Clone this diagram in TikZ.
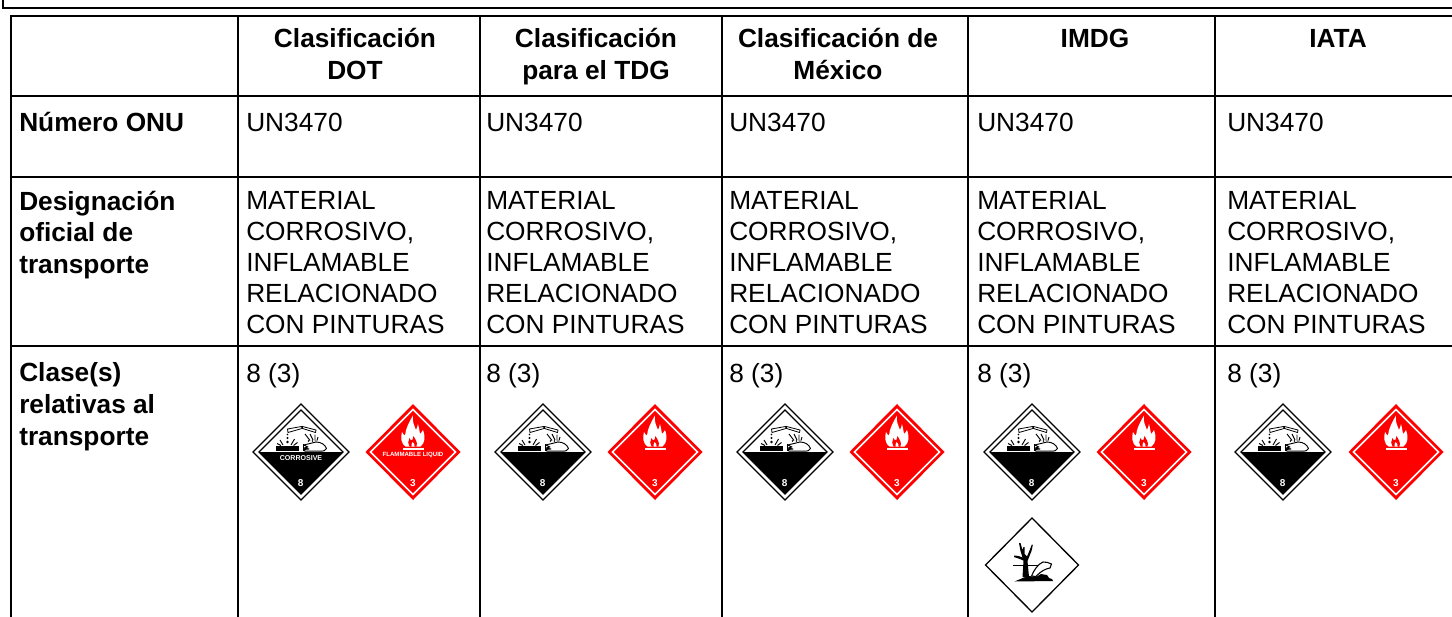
\documentclass[tikz,border=0pt]{standalone}
\usepackage{fontspec}
\setmainfont{Liberation Sans}
\newcommand{\hazbody}{\fontsize{19.7pt}{23pt}\selectfont}
\newcommand{\hazhead}{\fontsize{19.7pt}{23pt}\selectfont\bfseries}
\newcommand{\hazcorr}{\fontsize{5.3pt}{6pt}\selectfont\bfseries}
\newcommand{\hazflam}{\fontsize{4.55pt}{6pt}\selectfont\bfseries}
\newcommand{\haznum}{\fontsize{7.5pt}{8pt}\selectfont\bfseries}
\tikzset{
  rule/.style={draw=black,line width=1.9pt},
  colrule/.style={draw=black,line width=1.1pt},
  bodytext/.style={anchor=base west,inner sep=0pt,font=\hazbody},
  labeltext/.style={anchor=base west,inner sep=0pt,font=\hazhead},
  headtext/.style={anchor=base,inner sep=0pt,font=\hazhead},
  signtext/.style={anchor=center,inner sep=0pt,text=white},
  signnum/.style={anchor=center,inner sep=0pt,text=white,font=\haznum},
}
% corrosive sign: centre x, centre y, optional label
\newcommand{\corrsign}[3]{%
 \begin{scope}[shift={(#1,#2)}]
  \draw[black,line width=1pt,fill=white,line join=miter] (0,-48)--(48,0)--(0,48)--(-48,0)--cycle;
  \draw[black,line width=1pt,fill=white] (0,-42)--(42,0)--(0,42)--(-42,0)--cycle;
  \fill[black] (-41.5,0)--(41.5,0)--(0,42)--cycle;
  % tubes
  \draw[black,line width=.6pt,fill=white] (-13.5,-23)--(.5,-25.5)--(1,-23.5)--(-13,-19.5)--cycle;
  \draw[black,line width=.6pt,fill=white] (1.5,-25.5)--(15,-22)--(14.5,-19.5)--(1.5,-23.5)--cycle;
  % left bar and drops
  \fill[black] (-25,-6) rectangle (-2.5,-1);
  \fill[black] (-13.5,-10) circle (1.3) (-13.5,-14) circle (1.1) (-13.5,-17.5) circle (.8);
  \draw[black,line width=.7pt] (-18,-7)--(-21,-12) (-10,-7)--(-6.5,-13) (-7.5,-6.5)--(-3.5,-9.5) (-20,-6.5)--(-24,-8.5);
  % hand
  \draw[black,line width=.7pt,fill=white,line join=round] (2.5,-7)--(9,-8.5)--(15,-10) .. controls (20,-10) and (24,-7.5) .. (25.5,-3.5) .. controls (25,-1) and (22,-.8) .. (18,-.8) -- (4,-.8) -- (3,-2.5)--(8,-3)--(3,-4)--(7,-5)--cycle;
  \fill[black] (1.5,-8.5) rectangle (3,-.6);
  \draw[black,line width=.7pt] (4,-18)--(9,-11.5) (9,-18)--(12,-12) (14,-17.5)--(14,-11.5) (17,-15)--(16,-11.5);
  \fill[black] (7.5,-11) circle (.9) (11.5,-11) circle (.8) (15,-11) circle (.7);
  #3
  \node[signnum] (n8x#1) at (-.3,31.5) {8};
 \end{scope}}
% flame sign
\newcommand{\flamesign}[3]{%
 \begin{scope}[shift={(#1,#2)}]
  \fill[red] (0,-48)--(47.5,0)--(0,48)--(-47.5,0)--cycle;
  \draw[white,line width=1.1pt,line join=miter] (0,-42.5)--(42.5,0)--(0,42.5)--(-42.5,0)--cycle;
  \fill[white] (-7.5,-5.5) .. controls (-12,-8) and (-12.5,-15) .. (-11,-20) .. controls (-10,-18) and (-9,-17) .. (-8,-16.5) .. controls (-7.5,-23) and (-4,-30) .. (0,-36.5) .. controls (-1,-31) and (1,-27) .. (3,-22) .. controls (4,-24) and (4.5,-26) .. (5,-28) .. controls (6,-24) and (6.5,-21) .. (7,-18) .. controls (8,-19) and (9,-20) .. (10,-22) .. controls (12.5,-15) and (12,-9) .. (7.5,-5.5) -- cycle;
  \fill[red] (-3.5,-5.5) .. controls (-5.5,-8) and (-5,-11) .. (-3.5,-14) .. controls (-3,-12) and (-2,-11.5) .. (-.7,-12) .. controls (-.2,-13) and (.2,-14.5) .. (.5,-16) .. controls (2,-13) and (5,-10) .. (3.5,-5.5) -- cycle;
  \fill[white] (-1.5,-5.5) .. controls (-2,-7.5) and (-1,-8.5) .. (-.3,-10) .. controls (1,-8.5) and (2,-7) .. (1.5,-5.5) -- cycle;
  \fill[white] (-10.3,-4.4) rectangle (10.7,-2.3);
  #3
  \node[signnum] (n3x#1) at (0,31) {3};
 \end{scope}}
% environmental sign
\newcommand{\envsign}[2]{%
 \begin{scope}[shift={(#1,#2)}]
  \draw[black,line width=1pt,fill=white] (0,-47)--(46.5,0)--(0,47)--(-46.5,0)--cycle;
  \draw[black,line width=.5pt] (-19,0)--(7,0);
  \fill[black] (-9.5,12) -- (-8.5,-4.5) .. controls (-12,-6) and (-15,-7) .. (-18,-8) -- (-18,-9.5) .. controls (-15,-9.5) and (-13,-9) .. (-9.5,-7.5) -- (-11.5,-14) -- (-13,-22) -- (-11.5,-22) -- (-9.5,-15) -- (-8.5,-18) -- (-7.5,-18) -- (-7.5,-11) -- (-5,-8.5) -- (-1.5,-17) -- (-.2,-20.5) -- (.8,-20) -- (-.5,-14) -- (-4.5,-4) -- (-3,12) -- cycle;
  \draw[black,line width=.8pt,fill=white,line join=round] (-.5,11) .. controls (2,5) and (6,-1) .. (11,-3) .. controls (14,-3) and (17,-2.5) .. (19.5,-1) -- (18,3) .. controls (13,4) and (9,6) .. (4,11.5) -- cycle;
  \fill[black] (-8,12.5) -- (-3,11) -- (4,12) -- (9,9) -- (15,10) -- (17,13) -- (20,14) -- (21,16) -- (-17.5,16.5) -- cycle;
 \end{scope}}
\begin{document}
\begin{tikzpicture}[x=.75pt,y=-.75pt]
\useasboundingbox (0,0) rectangle (1452,617);
\fill[white] (0,0) rectangle (1452,617);
% page frame remnant
\coordinate (pfa) at (3,0); \coordinate (pfb) at (3,8); \coordinate (pfc) at (1452,8);
\draw[rule] (pfa)--(pfb)--(pfc);
% table grid
\coordinate (ttl) at (11,16); \coordinate (ttr) at (1452,16); \coordinate (tbl) at (11,617);
\draw[rule] (ttr)--(ttl)--(tbl);
\foreach \yy in {96,177,346} \draw[rule] (11,\yy)--(1452,\yy);
\foreach \xx in {238,480,722,968,1215} \draw[colrule] (\xx,16)--(\xx,617);
% headers
\node[headtext] (h1a) at (355,47.5) {Clasificación};
\node[headtext] (h1b) at (355,79.5) {DOT};
\node[headtext] (h2a) at (596,47.5) {Clasificación};
\node[headtext] (h2b) at (596,79.5) {para el TDG};
\node[headtext] (h3a) at (838,47.5) {Clasificación de};
\node[headtext] (h3b) at (838,79.5) {México};
\node[headtext] (h4a) at (1095,47.5) {IMDG};
\node[headtext] (h5a) at (1338,47.5) {IATA};
% row labels
\node[labeltext] (r1) at (19,131) {Número ONU};
\node[labeltext] (r2a) at (19,210) {Designación};
\node[labeltext] (r2b) at (19,241) {oficial de};
\node[labeltext] (r2c) at (19,273) {transporte};
\node[labeltext] (r3a) at (19,381) {Clase(s)};
\node[labeltext] (r3b) at (19,413) {relativas al};
\node[labeltext] (r3c) at (19,445) {transporte};
% columns
\foreach \xx/\nn in {246/a,486/b,729/c,977/d,1227/e}{
  \node[bodytext] (un\nn) at (\xx,131) {UN3470};
  \node[bodytext] (m1\nn) at (\xx,209) {MATERIAL};
  \node[bodytext] (m2\nn) at (\xx,240) {CORROSIVO,};
  \node[bodytext] (m3\nn) at (\xx,271) {INFLAMABLE};
  \node[bodytext] (m4\nn) at (\xx,302) {RELACIONADO};
  \node[bodytext] (m5\nn) at (\xx,333) {CON PINTURAS};
  \node[bodytext] (cl\nn) at (\xx,382) {8 (3)};
}
% signs
\corrsign{301}{452}{\node[signtext,font=\hazcorr] (corrlbl) at (0,5.7) {CORROSIVE};}
\flamesign{413}{452}{\node[signtext,font=\hazflam] (flamlbl) at (0,3.3) {FLAMMABLE LIQUID};}
\corrsign{543}{452}{}
\flamesign{655}{452}{}
\corrsign{785}{452}{}
\flamesign{897}{452}{}
\corrsign{1032}{452}{}
\flamesign{1144}{452}{}
\corrsign{1283}{452}{}
\flamesign{1396}{452}{}
\envsign{1032}{565}
\end{tikzpicture}
\end{document}
